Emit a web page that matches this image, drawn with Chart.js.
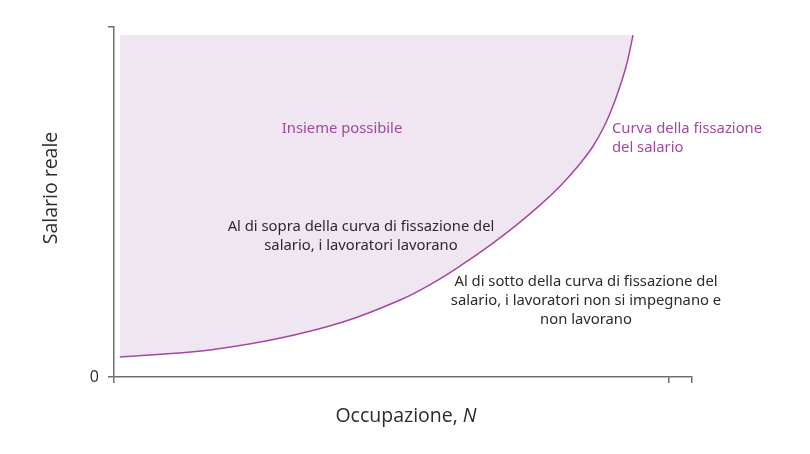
<!DOCTYPE html>
<html lang="it">
<head>
<meta charset="UTF-8">
<title>Curva della fissazione del salario</title>
<script src="https://cdn.jsdelivr.net/npm/chart.js@4.4.1/dist/chart.umd.min.js"></script>
<style>
  * { box-sizing: border-box; }
  html, body { margin: 0; padding: 0; background: #fff; }
  .chart-container { position: relative; width: 810px; height: 454px; }
</style>
</head>
<body>
<div class="chart-container">
  <canvas id="chart"></canvas>
</div>
<script>
const curveN = [1.0, 8.8, 16.6, 28.2, 39.6, 49.5, 55.2, 60.4, 65.1, 69.4, 73.7, 77.2, 80.3, 82.9, 85.0, 86.7, 87.9, 88.8, 89.8];
const curveW = [5.7, 6.6, 7.7, 10.9, 15.7, 22.0, 26.9, 32.3, 37.7, 43.1, 49.1, 54.6, 60.3, 66.0, 72.3, 79.1, 84.9, 90.0, 97.7];
const feasibleTop = 97.7;
const xTicks = [0, 96, 100];
const yTicks = [0, 100];
const yTickLabels = ['0', ''];

const PURPLE = '#a4489e';
const AXIS = '#6e6e6e';
const TEXT = '#2b2b2b';

const points = curveN.map((n, i) => ({ x: n, y: curveW[i] }));

// texts drawn on top of the chart
const textPlugin = {
  id: 'texts',
  afterDraw(chart) {
    const ctx = chart.ctx;
    ctx.save();
    ctx.textBaseline = 'middle';

    ctx.fillStyle = PURPLE;
    ctx.font = '14.8px "Noto Sans"';
    ctx.textAlign = 'center';
    ctx.fillText('Insieme possibile', 342, 129);
    ctx.textAlign = 'left';
    ctx.fillText('Curva della fissazione', 612, 129);
    ctx.fillText('del salario', 612, 148);

    ctx.fillStyle = TEXT;
    ctx.textAlign = 'center';
    ctx.fillText('Al di sopra della curva di fissazione del', 361, 227);
    ctx.fillText('salario, i lavoratori lavorano', 361, 246);
    ctx.fillText('Al di sotto della curva di fissazione del', 586, 282);
    ctx.fillText('salario, i lavoratori non si impegnano e', 586, 301);
    ctx.fillText('non lavorano', 586, 320);

    // axis titles (N in italics)
    const a = 'Occupazione, ';
    ctx.font = '19.5px "Open Sans"';
    const wa = ctx.measureText(a).width;
    ctx.font = 'italic 19.5px "Open Sans"';
    const wb = ctx.measureText('N').width;
    const x0 = 406 - (wa + wb) / 2;
    ctx.textAlign = 'left';
    ctx.font = '19.5px "Open Sans"';
    ctx.fillText(a, x0, 416);
    ctx.font = 'italic 19.5px "Open Sans"';
    ctx.fillText('N', x0 + wa, 416);

    ctx.font = '19.5px "Open Sans"';
    ctx.translate(51, 188);
    ctx.rotate(-Math.PI / 2);
    ctx.textAlign = 'center';
    ctx.fillText('Salario reale', 0, 0);
    ctx.restore();
  }
};

new Chart(document.getElementById('chart'), {
  type: 'scatter',
  data: {
    datasets: [{
      label: 'Curva della fissazione del salario',
      data: points,
      showLine: true,
      borderColor: PURPLE,
      borderWidth: 1.5,
      backgroundColor: '#efe6f2',
      fill: { value: feasibleTop },
      pointRadius: 0,
      tension: 0.4
    }]
  },
  options: {
    responsive: true,
    maintainAspectRatio: false,
    animation: false,
    layout: { padding: { left: 74, right: 118, top: 27, bottom: 37 } },
    plugins: { legend: { display: false }, tooltip: { enabled: false } },
    scales: {
      x: {
        type: 'linear', min: 0, max: 100,
        afterBuildTicks: (s) => { s.ticks = xTicks.map((v) => ({ value: v })); },
        afterFit: (s) => { s.height = 40; },
        border: { color: AXIS, width: 1.5 },
        grid: { drawOnChartArea: false, drawTicks: true, tickLength: 6, color: AXIS, lineWidth: 1.5 },
        ticks: { callback: () => '', padding: 0 }
      },
      y: {
        type: 'linear', min: 0, max: 100,
        afterBuildTicks: (s) => { s.ticks = yTicks.map((v) => ({ value: v })); },
        afterFit: (s) => { s.width = 40; },
        border: { color: AXIS, width: 1.5 },
        grid: { drawOnChartArea: false, drawTicks: true, tickLength: 6, color: AXIS, lineWidth: 1.5 },
        ticks: {
          callback: (v, i) => yTickLabels[i],
          padding: 9,
          color: TEXT,
          font: { family: '"Open Sans"', size: 16 }
        }
      }
    }
  },
  plugins: [textPlugin]
});
</script>
</body>
</html>
